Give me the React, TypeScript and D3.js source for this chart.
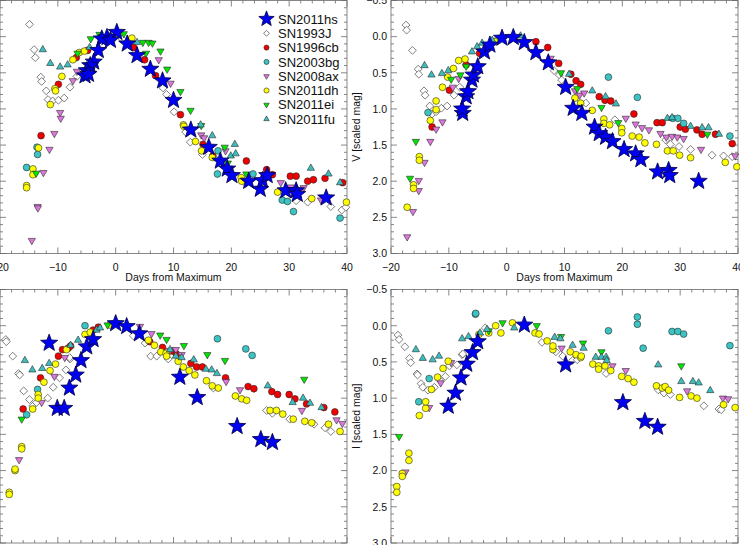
import React from 'react';
import * as d3 from 'd3';

type P = [number, number];

// ---------- B band (top-left) ----------
const B_SN2011hs: P[] = [[0.2,-0.06],[-1.5,0.01],[-2.4,0.03],[-0.9,0.05],[-3.0,0.19],[-3.8,0.35],[-4.4,0.40],[-5.0,0.47],[-5.3,0.54],[-4.7,0.52],[2.0,0.10],[3.7,0.26],[6.0,0.45],[8.1,0.61],[10.0,0.88],[13.0,1.29],[16.1,1.53],[18.1,1.72],[19.3,1.83],[20.1,1.92],[23.0,2.0],[25.0,2.11],[25.4,1.99],[26.2,1.92],[29.4,2.13],[31.2,2.13],[31.4,2.18],[36.4,2.23]];
const B_SN1993J: P[] = [[-14.9,-0.17],[-14.1,0.18],[-13.9,0.29],[-12.95,0.56],[-12.8,0.62],[-12.0,0.75],[-11.7,0.87],[-10.9,0.89],[-9.9,0.88],[-8.9,0.85],[-7.9,0.70],[-6.7,0.55],[-0.6,0.05],[1.1,0.03],[8.2,0.71],[8.8,0.80],[10.1,1.04],[12.1,1.32],[12.9,1.46],[15.0,1.63],[17.0,1.67],[22.5,2.03],[31.2,2.27],[33.2,2.29],[37.2,2.35],[39.1,2.4],[39.8,2.36]];
const B_SN1996cb: P[] = [[-12.9,1.37],[-9.9,0.66],[-6.8,0.29],[-4.85,0.19],[3.1,0.15],[5.0,0.32],[6.9,0.54],[11.2,1.08],[15.1,1.49],[16.8,1.65],[22.6,1.72],[26.1,1.84],[27.1,1.91],[30.2,1.93],[31.2,1.93],[33.2,2.0],[34.2,1.98],[36.2,1.96],[39.25,2.02]];
const B_SN2003bg: P[] = [[-15.4,1.81],[-13.5,1.63],[-13.6,1.53],[17.7,1.58],[17.6,1.90],[23.75,1.9],[28.8,2.26],[29.7,2.28],[30.75,2.42],[38.8,2.51]];
const B_SN2008ax: P[] = [[-14.5,2.82],[-13.5,2.35],[-13.45,2.37],[-12.5,1.88],[-11.45,1.56],[-10.6,1.34],[-9.6,1.05],[-9.5,1.13],[-7.4,0.61],[-6.7,0.48],[7.45,0.32],[9.5,0.645],[14.8,1.36],[15.3,1.40],[19.0,1.58],[28.55,2.02],[30.3,2.08],[32.5,2.09],[35.5,2.26]];
const B_SN2011dh: P[] = [[-15.4,2.06],[-15.4,2.09],[-14.3,1.83],[-14.3,1.91],[-13.35,1.54],[-11.3,0.94],[-10.5,0.72],[-10.4,0.75],[-9.3,0.55],[-7.4,0.32],[-6.3,0.22],[-5.4,0.20],[2.8,0.02],[11.7,1.22],[11.8,1.24],[13.8,1.45],[14.85,1.58],[16.7,1.67],[21.7,1.95],[21.8,2.0],[28.0,2.15],[33.9,2.24],[39.9,2.29]];
const B_SN2011ei: P[] = [[-13.75,1.89],[-6.6,0.23],[-4.3,0.03],[-2.8,-0.03],[1.4,-0.04],[4.7,0.08],[5.7,0.08],[6.35,0.09],[7.75,0.2],[5.25,0.23],[8.9,0.45],[11.2,0.76],[12.95,1.02],[14.8,1.23],[18.85,1.53],[19.4,1.75],[22.6,1.9]];
const B_SN2011fu: P[] = [[-12.6,0.18],[-11.3,0.37],[-9.6,0.42],[-8.3,0.39],[-4.5,0.15],[3.7,0.08],[14.7,1.22],[16.7,1.37],[19.9,1.65],[20.6,1.49],[20.75,1.62],[33.75,1.82],[36.8,1.9],[38.8,2.02]];

// ---------- V band (top-right) ----------
const V_SN2011hs: P[] = [[-7.6,1.06],[-7.7,1.0],[-7.0,0.83],[-6.7,0.76],[-6.0,0.60],[-5.75,0.53],[-5.0,0.415],[-3.85,0.21],[-2.9,0.115],[-0.8,0.02],[1.15,0.01],[3.05,0.08],[5.06,0.22],[7.2,0.36],[10.2,0.70],[11.5,0.99],[13.0,1.06],[15.2,1.25],[16.0,1.34],[17.1,1.39],[18.3,1.45],[20.3,1.56],[22.3,1.62],[23.2,1.70],[26.1,1.87],[28.0,1.85],[28.2,1.92],[33.2,2.0]];
const V_SN1993J: P[] = [[-17.4,-0.16],[-17.3,-0.09],[-16.3,0.19],[-15.3,0.45],[-15.2,0.52],[-14.3,0.75],[-14.1,0.81],[-13.3,0.96],[-12.9,1.07],[-12.2,1.04],[-11.3,0.99],[-10.3,0.96],[-9.1,0.81],[-8.1,0.70],[-1.8,0.05],[8.2,0.47],[9.1,0.53],[9.5,0.6],[13.7,0.92],[18.7,1.15],[27.5,1.43],[28.3,1.49],[29.8,1.52],[31.8,1.56],[35.5,1.64],[37.5,1.65],[39.0,1.66]];
const V_SN1996cb: P[] = [[-12.9,1.25],[-9.9,0.74],[-7.0,0.39],[-4.7,0.23],[5.06,0.07],[7.1,0.15],[9.0,0.37],[11.1,0.52],[12.0,0.61],[12.8,0.66],[16.0,0.83],[17.0,0.88],[18.0,0.89],[22.0,1.07],[26.0,1.19],[26.9,1.19],[30.0,1.25],[30.9,1.28],[32.9,1.29],[33.8,1.35],[36.1,1.35],[39.0,1.48]];
const V_SN2003bg: P[] = [[-13.6,1.05],[17.6,0.56],[22.6,0.84],[28.7,1.13],[29.6,1.13],[30.6,1.20],[38.6,1.375]];
const V_SN2008ax: P[] = [[-17.2,2.77],[-16.2,2.42],[-15.2,1.99],[-15.2,2.13],[-14.2,1.74],[-13.2,1.45],[-12.2,1.28],[-11.1,1.18],[-9.3,0.70],[-8.3,0.58],[7.6,0.30],[11.8,0.75],[12.6,0.81],[13.4,0.78],[20.6,1.13],[22.3,1.21],[23.4,1.26],[24.6,1.29],[26.6,1.34],[27.6,1.39],[28.6,1.38],[29.5,1.39],[30.6,1.41],[33.6,1.56],[39.5,1.65]];
const V_SN2011dh: P[] = [[-17.2,2.36],[-16.1,2.05],[-16.1,2.1],[-15.1,1.66],[-15.1,1.71],[-13.2,1.16],[-12.2,1.01],[-12.2,0.89],[-11.1,0.70],[-10.2,0.56],[-9.2,0.44],[-8.3,0.33],[-7.2,0.31],[-3.4,0.16],[-2.0,0.07],[11.8,0.85],[12.8,0.92],[14.8,1.02],[16.8,1.14],[16.8,1.20],[17.8,1.22],[19.9,1.27],[19.9,1.33],[21.7,1.375],[22.9,1.39],[23.9,1.47],[25.9,1.49],[27.8,1.58],[28.8,1.58],[29.9,1.64],[31.8,1.675],[37.8,1.74],[39.8,1.80]];
const V_SN2011ei: P[] = [[-16.7,1.96],[-15.7,1.45],[-9.6,0.59],[-8.0,0.53],[-7.0,0.41],[9.4,0.50],[12.2,0.72],[16.4,0.98],[19.3,1.19],[34.7,1.35]];
const V_SN2011fu: P[] = [[-14.2,0.40],[-13.0,0.53],[-11.2,0.51],[-10.1,0.47],[-6.0,0.21],[-5.1,0.14],[-4.25,0.09],[-2.5,0.05],[2.4,-0.01],[10.8,0.52],[14.8,0.75],[17.1,0.83],[18.9,0.93],[27.8,1.13],[28.6,1.12],[31.8,1.24],[33.8,1.26],[34.9,1.26],[36.7,1.35]];

// ---------- R band (bottom-left) ----------
const R_SN2011hs: P[] = [[-11.5,0.24],[-10.1,1.14],[-8.9,1.14],[-8.0,0.86],[-6.9,0.68],[-6.0,0.48],[-5.0,0.29],[-3.9,0.19],[0.0,-0.03],[1.9,0.01],[4.1,0.11],[11.1,0.71],[14.1,0.99],[21.0,1.39],[25.1,1.57],[27.1,1.61]];
const R_SN1993J: P[] = [[-19.0,0.19],[-18.9,0.22],[-17.8,0.42],[-16.8,0.66],[-16.6,0.68],[-15.9,0.90],[-14.9,1.02],[-14.35,1.11],[-13.7,1.06],[-11.75,1.0],[-10.8,0.85],[-9.7,0.72],[-8.6,0.61],[-7.9,0.46],[-7.95,0.44],[3.05,0.14],[5.1,0.24],[6.05,0.42],[7.1,0.42],[9.1,0.46],[16.9,0.86],[26.1,1.17],[27.1,1.21],[30.1,1.29],[34.3,1.36],[36.2,1.41],[37.2,1.46]];
const R_SN1996cb: P[] = [[-16.0,1.15],[-13.0,0.72],[-9.9,0.42],[-9.2,0.33],[-8.2,0.31],[-7.8,0.28],[-3.9,0.06],[-3.0,0.02],[5.9,0.22],[8.1,0.30],[9.8,0.35],[10.5,0.39],[13.0,0.52],[14.0,0.57],[15.0,0.57],[19.0,0.72],[22.9,0.84],[23.9,0.87],[27.0,0.91],[28.0,0.95],[30.0,0.95],[31.0,1.01],[33.0,1.08],[36.0,1.13],[37.9,1.19]];
const R_SN2003bg: P[] = [[-15.4,1.23],[-13.5,0.88],[-5.3,0.0],[17.6,0.18],[22.5,0.32],[23.6,0.41]];
const R_SN2008ax: P[] = [[-16.7,1.85],[-12.8,1.06],[-10.6,0.70],[-8.8,0.44],[4.2,0.01],[6.2,0.11],[9.4,0.34],[10.4,0.33],[11.4,0.40],[19.1,0.77],[21.5,0.885],[32.2,1.17],[38.2,1.30],[39.2,1.35]];
const R_SN2011dh: P[] = [[-18.4,2.30],[-18.4,2.33],[-17.4,2.0],[-17.4,1.98],[-16.25,1.67],[-16.25,1.70],[-14.35,1.15],[-13.4,0.95],[-13.4,1.0],[-12.4,0.78],[-11.35,0.62],[-10.4,0.53],[-8.5,0.33],[-5.3,0.12],[-4.4,0.09],[-1.0,-0.01],[5.65,0.20],[6.7,0.27],[7.8,0.36],[8.7,0.38],[8.8,0.42],[10.8,0.49],[11.7,0.57],[12.7,0.62],[13.7,0.68],[15.7,0.76],[16.7,0.83],[17.75,0.86],[20.7,0.97],[21.8,1.01],[22.65,1.03],[26.7,1.17],[27.8,1.17],[28.9,1.22],[30.7,1.29],[32.7,1.32],[33.9,1.34],[36.8,1.36],[38.8,1.46]];
const R_SN2011ei: P[] = [[-16.25,1.29],[-1.4,-0.01],[7.7,0.13],[8.8,0.19],[11.8,0.275],[15.85,0.40],[18.9,0.48],[32.6,0.74]];
const R_SN2011fu: P[] = [[-15.7,0.48],[-14.4,0.61],[-12.7,0.59],[-11.5,0.52],[-7.8,0.27],[-6.5,0.20],[-3.3,0.06],[-2.7,0.03],[9.4,0.33],[10.4,0.42],[11.4,0.44],[13.5,0.47],[15.6,0.60],[16.6,0.61],[17.5,0.66],[26.3,0.83],[30.6,1.06],[32.4,1.0],[33.6,1.07],[35.6,1.13]];

// ---------- I band (bottom-right) ----------
const I_SN2011hs: P[] = [[-10.1,1.11],[-8.85,0.93],[-7.9,0.72],[-6.9,0.53],[-5.9,0.37],[-5.0,0.22],[3.05,-0.01],[10.2,0.54],[20.1,1.06],[23.9,1.32],[26.1,1.40]];
const I_SN1993J: P[] = [[-18.8,0.13],[-18.6,0.19],[-17.6,0.29],[-16.8,0.45],[-16.6,0.51],[-15.5,0.665],[-15.4,0.68],[-14.8,0.80],[-14.5,0.85],[-13.6,0.89],[-12.5,0.85],[-11.6,0.75],[-10.6,0.70],[-9.9,0.555],[-8.6,0.54],[-7.7,0.40],[-7.6,0.39],[-3.7,0.03],[6.1,0.23],[8.5,0.36],[9.7,0.42],[11.4,0.48],[12.2,0.47],[17.2,0.66],[26.2,0.885],[27.2,0.93],[28.3,0.95],[34.1,1.105],[36.7,1.15],[37.1,1.16]];
const I_SN1996cb: P[] = [];
const I_SN2003bg: P[] = [[-13.4,0.73],[-15.2,1.05],[-5.4,-0.16],[-5.35,-0.17],[17.6,0.07],[22.6,-0.12],[22.6,-0.02],[23.6,0.31],[28.6,0.08],[29.6,0.08],[30.6,0.115],[38.6,0.275]];
const I_SN2008ax: P[] = [[-17.5,2.02],[-13.4,1.13],[-11.4,0.79],[-9.6,0.51],[9.5,0.31],[18.3,0.555],[20.6,0.62],[31.2,0.90],[37.4,1.0],[38.3,1.01]];
const I_SN2011dh: P[] = [[-19.0,2.22],[-19.0,2.30],[-18.05,2.04],[-18.05,2.08],[-16.9,1.76],[-16.9,1.86],[-15.1,1.24],[-14.0,1.14],[-14.0,1.05],[-13.0,0.88],[-11.95,0.71],[-11.0,0.59],[-10.1,0.49],[-4.8,0.12],[-3.1,0.10],[-1.9,0.0],[-1.0,0.10],[1.0,-0.04],[4.9,0.10],[5.6,0.115],[7.0,0.21],[8.0,0.33],[8.0,0.28],[11.0,0.36],[12.0,0.40],[12.8,0.44],[12.9,0.42],[14.9,0.53],[15.9,0.555],[15.9,0.60],[17.0,0.555],[18.0,0.62],[19.9,0.70],[21.0,0.73],[22.0,0.78],[25.9,0.83],[26.9,0.86],[27.4,0.84],[28.0,0.89],[29.9,0.99],[31.9,0.97],[32.9,1.0],[37.5,1.09],[39.5,1.13]];
const I_SN2011ei: P[] = [[-18.6,1.53],[-3.1,0.07],[-0.7,-0.04],[5.2,0.0],[9.4,0.15],[13.2,0.24],[16.4,0.36],[30.2,0.555]];
const I_SN2011fu: P[] = [[-15.7,0.33],[-14.5,0.45],[-12.8,0.47],[-11.7,0.42],[-7.7,0.18],[-6.6,0.15],[-4.6,0.10],[-3.4,0.05],[1.3,0.03],[8.3,0.16],[9.3,0.18],[11.4,0.27],[13.3,0.31],[15.4,0.435],[16.4,0.435],[17.2,0.435],[17.3,0.48],[26.2,0.54],[30.2,0.77],[32.2,0.77],[33.2,0.79],[35.2,0.895]];

// ---------- axes / legend ----------
const SERIES_NAMES = ['SN2011hs', 'SN1993J', 'SN1996cb', 'SN2003bg', 'SN2008ax', 'SN2011dh', 'SN2011ei', 'SN2011fu'];
const X_DOMAIN: [number, number] = [-20, 40];
const Y_DOMAIN: [number, number] = [-0.5, 3.0];
const X_MAJOR = [-20, -10, 0, 10, 20, 30, 40];
const Y_MAJOR = [-0.5, 0.0, 0.5, 1.0, 1.5, 2.0, 2.5, 3.0];
const X_TITLE = 'Days from Maximum';

const STYLE: Record<string, { shape: string; fill: string }> = {
  SN2011hs: { shape: 'star', fill: '#0000f0' },
  SN1993J: { shape: 'diamond', fill: '#ffffff' },
  SN1996cb: { shape: 'circle', fill: '#f00000' },
  SN2003bg: { shape: 'circle', fill: '#3cc4c4' },
  SN2008ax: { shape: 'down', fill: '#dd77dd' },
  SN2011dh: { shape: 'circle', fill: '#ffff00' },
  SN2011ei: { shape: 'down', fill: '#00e600' },
  SN2011fu: { shape: 'up', fill: '#3cbebe' },
};

const FONT = '"Liberation Sans", Arial, Helvetica, sans-serif';
const W = 740, H = 545;

function shapePath(shape: string, k = 1): string {
  if (shape === 'star') {
    const R = 9 * k, r = R * 0.42;
    const pts: string[] = [];
    for (let i = 0; i < 10; i++) {
      const a = -Math.PI / 2 + (i * Math.PI) / 5;
      const rr = i % 2 === 0 ? R : r;
      pts.push(`${(rr * Math.cos(a)).toFixed(2)},${(rr * Math.sin(a)).toFixed(2)}`);
    }
    return 'M' + pts.join('L') + 'Z';
  }
  if (shape === 'diamond') {
    const r = 3.9 * k;
    return `M0,${-r}L${r},0L0,${r}L${-r},0Z`;
  }
  if (shape === 'up' || shape === 'down') {
    const r = 4.2 * k, s = shape === 'up' ? 1 : -1;
    return `M0,${-r * s}L${r * 0.866},${r * 0.5 * s}L${-r * 0.866},${r * 0.5 * s}Z`;
  }
  const r = 3.4 * k;
  return `M${r},0A${r},${r} 0 1,1 ${-r},0A${r},${r} 0 1,1 ${r},0Z`;
}

function Mark({ name, x, y, k = 1 }: { name: string; x: number; y: number; k?: number }) {
  const st = STYLE[name];
  return (
    <path
      d={shapePath(st.shape, k)}
      transform={`translate(${x.toFixed(2)},${y.toFixed(2)})`}
      fill={st.fill}
      stroke={name === 'SN2011hs' ? '#000040' : '#2a2a2a'}
      strokeWidth={name === 'SN2011hs' ? 0.8 : 0.6}
    />
  );
}

interface PanelDef {
  id: string;
  left: number; right: number; top: number; bottom: number;
  series: Record<string, P[]>;
  ylabel: string;
  legend?: boolean;
}

const PANELS: PanelDef[] = [
  { id: 'B', left: 0, right: 347, top: 0.5, bottom: 253.5, ylabel: 'B [scaled mag]', legend: true,
    series: { SN2011hs: B_SN2011hs, SN1993J: B_SN1993J, SN1996cb: B_SN1996cb, SN2003bg: B_SN2003bg, SN2008ax: B_SN2008ax, SN2011dh: B_SN2011dh, SN2011ei: B_SN2011ei, SN2011fu: B_SN2011fu } },
  { id: 'V', left: 391, right: 738, top: 0.5, bottom: 253.5, ylabel: 'V [scaled mag]',
    series: { SN2011hs: V_SN2011hs, SN1993J: V_SN1993J, SN1996cb: V_SN1996cb, SN2003bg: V_SN2003bg, SN2008ax: V_SN2008ax, SN2011dh: V_SN2011dh, SN2011ei: V_SN2011ei, SN2011fu: V_SN2011fu } },
  { id: 'R', left: 0, right: 347, top: 289.5, bottom: 543, ylabel: 'R [scaled mag]',
    series: { SN2011hs: R_SN2011hs, SN1993J: R_SN1993J, SN1996cb: R_SN1996cb, SN2003bg: R_SN2003bg, SN2008ax: R_SN2008ax, SN2011dh: R_SN2011dh, SN2011ei: R_SN2011ei, SN2011fu: R_SN2011fu } },
  { id: 'I', left: 391, right: 738, top: 289.5, bottom: 543, ylabel: 'I [scaled mag]',
    series: { SN2011hs: I_SN2011hs, SN1993J: I_SN1993J, SN1996cb: I_SN1996cb, SN2003bg: I_SN2003bg, SN2008ax: I_SN2008ax, SN2011dh: I_SN2011dh, SN2011ei: I_SN2011ei, SN2011fu: I_SN2011fu } },
];

const fmtY = (v: number) => (v < 0 ? '\u2212' : '') + Math.abs(v).toFixed(1);
const fmtX = (v: number) => (v < 0 ? '\u2212' : '') + Math.abs(v).toString();

function Panel({ p }: { p: PanelDef }) {
  const x = d3.scaleLinear().domain(X_DOMAIN).range([p.left, p.right]);
  const y = d3.scaleLinear().domain(Y_DOMAIN).range([p.top, p.bottom]);
  const xMinor = d3.range(X_DOMAIN[0], X_DOMAIN[1] + 0.001, 2);
  const yMinor = d3.range(0, 36).map((i) => Y_DOMAIN[0] + i * 0.1);
  const axisColor = '#6a6a6a';
  const MAJ = 6, MIN = 3;
  const ticks: React.ReactNode[] = [];
  xMinor.forEach((v, i) => {
    const big = X_MAJOR.some((m) => Math.abs(m - v) < 1e-6);
    const L = big ? MAJ : MIN;
    const xx = x(v);
    ticks.push(<line key={`xb${i}`} x1={xx} x2={xx} y1={p.bottom} y2={p.bottom - L} />);
    ticks.push(<line key={`xt${i}`} x1={xx} x2={xx} y1={p.top} y2={p.top + L} />);
  });
  yMinor.forEach((v, i) => {
    const big = Y_MAJOR.some((m) => Math.abs(m - v) < 1e-6);
    const L = big ? MAJ : MIN;
    const yy = y(v);
    ticks.push(<line key={`yl${i}`} x1={p.left} x2={p.left + L} y1={yy} y2={yy} />);
    ticks.push(<line key={`yr${i}`} x1={p.right} x2={p.right - L} y1={yy} y2={yy} />);
  });
  const order = [...SERIES_NAMES.slice(1), SERIES_NAMES[0]];
  const cy = (p.top + p.bottom) / 2;
  // labels that would fall entirely outside the page are left out (the page crops them)
  const xLabelY = p.bottom + 17;
  const showX = xLabelY < H;
  const showY = p.left - 4 > 0;
  return (
    <g>
      <g stroke={axisColor} strokeWidth={0.8} fill="none">
        <rect x={p.left} y={p.top} width={p.right - p.left} height={p.bottom - p.top} />
        {ticks}
      </g>
      <g fontFamily={FONT} fontSize={10.5} fill="#111">
        {showX && X_MAJOR.map((v) => (
          <text key={`xl${v}`} x={x(v)} y={xLabelY} textAnchor="middle">{fmtX(v)}</text>
        ))}
        {showY && Y_MAJOR.map((v) => (
          <text key={`yl${v}`} x={p.left - 4} y={y(v) + 3.8} textAnchor="end">{fmtY(v)}</text>
        ))}
        {showX && (
          <text x={(p.left + p.right) / 2} y={p.bottom + 27.5} textAnchor="middle">{X_TITLE}</text>
        )}
        {showY && (
          <text transform={`translate(${p.left - 31},${cy}) rotate(-90)`} textAnchor="middle">{p.ylabel}</text>
        )}
      </g>
      <g>
        {order.map((name) =>
          (p.series[name] || []).map((d, i) => <Mark key={`${name}${i}`} name={name} x={x(d[0])} y={y(d[1])} />)
        )}
      </g>
      {p.legend && (
        <g fontFamily={FONT} fontSize={13} fill="#111">
          {SERIES_NAMES.map((name, i) => {
            const ly = 19 + i * 14.3;
            return (
              <g key={name}>
                <Mark name={name} x={266.5} y={ly} k={name === 'SN2011hs' ? 0.9 : 0.75} />
                <text x={278} y={ly + 4.6}>{name}</text>
              </g>
            );
          })}
        </g>
      )}
    </g>
  );
}

export default function App() {
  return (
    <svg
      width={W}
      height={H}
      viewBox={`0 0 ${W} ${H}`}
      style={{ position: 'absolute', left: 0, top: 0, background: '#fff' }}
    >
      <rect x={0} y={0} width={W} height={H} fill="#fff" />
      {PANELS.map((p) => (
        <Panel key={p.id} p={p} />
      ))}
    </svg>
  );
}
